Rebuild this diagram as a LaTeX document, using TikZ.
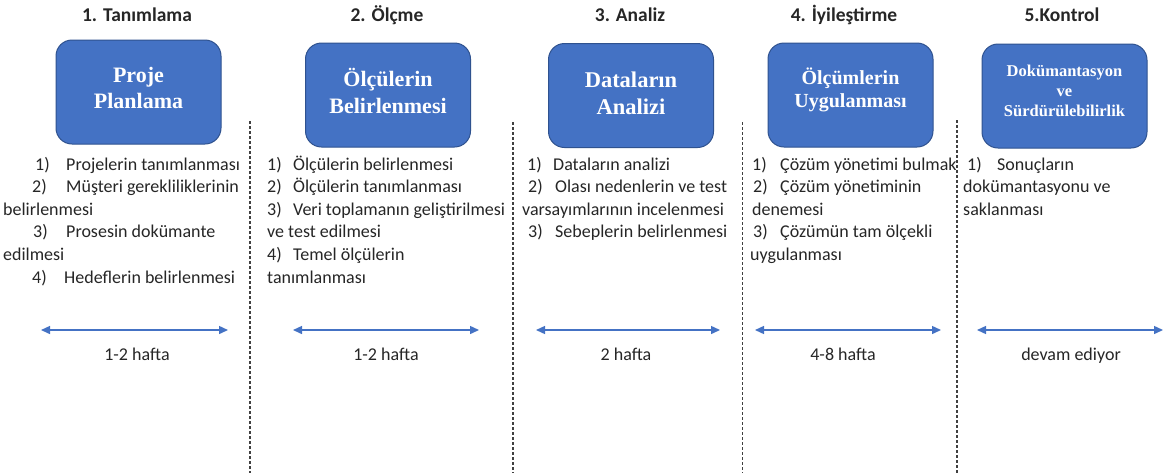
\documentclass[tikz,border=0pt]{standalone}
\usepackage{fontspec}
\setmainfont{Carlito}
\newfontfamily\boxfont{Liberation Serif}
\usetikzlibrary{arrows.meta}
\definecolor{boxblue}{HTML}{4472C4}
\definecolor{boxedge}{HTML}{2F528F}
\definecolor{txt}{HTML}{262626}
\definecolor{sep}{HTML}{404040}
% fixed-width slot for the list numbers
\newcommand\lnum[2][31pt]{\makebox[#1][l]{#2}}
\begin{document}
\begin{tikzpicture}[x=1pt,y=-1pt,
  phase/.style={anchor=base, inner sep=0, text=txt, font=\fontsize{19.5}{23}\selectfont\bfseries},
  stagebox/.style={draw=boxedge, line width=1pt, fill=boxblue, rounded corners=16pt,
    minimum width=165pt, minimum height=104pt, inner sep=0},
  stagetext/.style 2 args={text=white, align=center, inner sep=0,
    font=\boxfont\bfseries\fontsize{#1}{#2}\selectfont},
  item/.style={anchor=base west, inner sep=0, text=txt, font=\fontsize{18}{22}\selectfont},
  sepline/.style={draw=sep, line width=1.3pt, dash pattern=on 3pt off 2pt},
  span/.style={draw=boxblue, line width=1.4pt,
    {Triangle[length=9pt,width=8pt]}-{Triangle[length=9pt,width=8pt]}},
  dur/.style={anchor=base, inner sep=0, text=txt, font=\fontsize{18}{22}\selectfont}
]
\fill[white] (0,0) rectangle (1172,475);
\useasboundingbox (0,0) rectangle (1172,475);

% phase titles
\node[phase] (h1) at (137,21) {1. Tanımlama};
\node[phase] (h2) at (387,21) {2. Ölçme};
\node[phase] (h3) at (630,21) {3. Analiz};
\node[phase] (h4) at (844,21) {4. İyileştirme};
\node[phase] (h5) at (1062,21) {5.Kontrol};

% stage boxes
\node[stagebox] (b1) at (138.5,92) {};
\node[stagebox] (b2) at (388,95) {};
\node[stagebox] (b3) at (631,95.5) {};
\node[stagebox] (b4) at (850.5,95) {};
\node[stagebox] (b5) at (1064.5,96) {};
\node[stagetext={22}{26}] (t1) at ([yshift=4pt]b1.center) {Proje\\Planlama};
\node[stagetext={22}{27}] (t2) at ([yshift=4pt]b2.center) {Ölçülerin\\Belirlenmesi};
\node[stagetext={22.5}{27}] (t3) at ([yshift=2pt]b3.center) {Dataların\\Analizi};
\node[stagetext={20}{23}] (t4) at ([yshift=5pt]b4.center) {Ölçümlerin\\Uygulanması};
\node[stagetext={16.5}{20}] (t5) at ([yshift=5pt]b5.center) {Dokümantasyon\\ve\\Sürdürülebilirlik};

% task lists
\node[item] (c1l1) at (35,170) {\lnum{1)}Projelerin tanımlanması};
\node[item] (c1l2) at (32,192.6) {\lnum[34pt]{2)}Müşteri gerekliliklerinin};
\node[item] (c1l3) at (3,215.2) {belirlenmesi};
\node[item] (c1l4) at (33,237.8) {\lnum[33pt]{3)}Prosesin dokümante};
\node[item] (c1l5) at (3,260.4) {edilmesi};
\node[item] (c1l6) at (32,283) {\lnum[32pt]{4)}Hedeflerin belirlenmesi};

\node[item] (c2l1) at (267,170) {\lnum[26pt]{1)}Ölçülerin belirlenmesi};
\node[item] (c2l2) at (267,192.6) {\lnum[26pt]{2)}Ölçülerin tanımlanması};
\node[item] (c2l3) at (267,215.2) {\lnum[26pt]{3)}Veri toplamanın geliştirilmesi};
\node[item] (c2l4) at (267,237.8) {ve test edilmesi};
\node[item] (c2l5) at (267,260.4) {\lnum[26pt]{4)}Temel ölçülerin};
\node[item] (c2l6) at (267,283) {tanımlanması};

\node[item] (c3l1) at (527,170) {\lnum[26pt]{1)}Dataların analizi};
\node[item] (c3l2) at (528,192.6) {\lnum[27pt]{2)}Olası nedenlerin ve test};
\node[item] (c3l3) at (522,215.2) {varsayımlarının incelenmesi};
\node[item] (c3l4) at (528,237.8) {\lnum[27pt]{3)}Sebeplerin belirlenmesi};

\node[item] (c4l1) at (752,170) {\lnum[28pt]{1)}Çözüm yönetimi bulmak};
\node[item] (c4l2) at (753,192.6) {\lnum[27pt]{2)}Çözüm yönetiminin};
\node[item] (c4l3) at (752,215.2) {denemesi};
\node[item] (c4l4) at (753,237.8) {\lnum[27pt]{3)}Çözümün tam ölçekli};
\node[item] (c4l5) at (750,260.4) {uygulanması};

\node[item] (c5l1) at (967,170) {\lnum[30pt]{1)}Sonuçların};
\node[item] (c5l2) at (963,192.6) {dokümantasyonu ve};
\node[item] (c5l3) at (963,215.2) {saklanması};

% dashed separators between phases
\coordinate (s1t) at (250,121);   \coordinate (s1b) at (250,473);
\coordinate (s2t) at (513,122);   \coordinate (s2b) at (513,473);
\coordinate (s3t) at (742.5,122); \coordinate (s3b) at (742.5,473);
\coordinate (s4t) at (957,120);   \coordinate (s4b) at (957,473);
\draw[sepline] (s1t) -- (s1b);
\draw[sepline] (s2t) -- (s2b);
\draw[sepline] (s3t) -- (s3b);
\draw[sepline] (s4t) -- (s4b);

% durations
\coordinate (a1l) at (41,330);  \coordinate (a1r) at (228,330);
\coordinate (a2l) at (293,330); \coordinate (a2r) at (479,330);
\coordinate (a3l) at (536,330); \coordinate (a3r) at (720,330);
\coordinate (a4l) at (755,330); \coordinate (a4r) at (941,330);
\coordinate (a5l) at (977,330); \coordinate (a5r) at (1163,330);
\draw[span] (a1l) -- (a1r);
\draw[span] (a2l) -- (a2r);
\draw[span] (a3l) -- (a3r);
\draw[span] (a4l) -- (a4r);
\draw[span] (a5l) -- (a5r);
\node[dur] (d1) at (137,360) {1-2 hafta};
\node[dur] (d2) at (386,360) {1-2 hafta};
\node[dur] (d3) at (626,360) {2 hafta};
\node[dur] (d4) at (843,360) {4-8 hafta};
\node[dur] (d5) at (1071,360) {devam ediyor};
\end{tikzpicture}
\end{document}
